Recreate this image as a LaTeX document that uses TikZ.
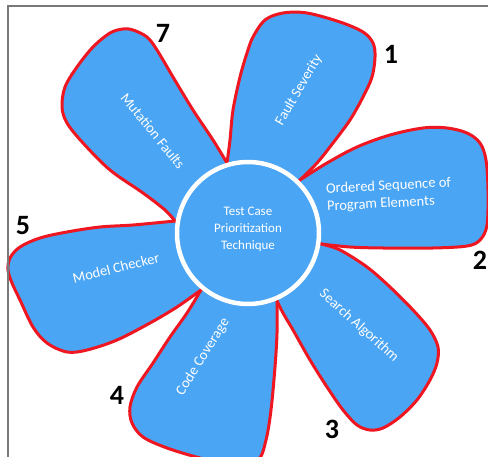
\documentclass[tikz,border=0pt]{standalone}
\usepackage{fontspec}
\setmainfont{Carlito}
\usetikzlibrary{calc}
\definecolor{petalblue}{RGB}{75,165,245}
\definecolor{petalred}{RGB}{238,22,32}
\definecolor{framegray}{RGB}{120,120,120}
\begin{document}
\begin{tikzpicture}[x=1pt,y=-1pt,
  petal/.style={fill=petalblue, draw=petalred, line width=3pt, line join=round},
  hub/.style={circle, fill=petalblue, draw=white, line width=4.5pt, minimum size=142pt, inner sep=0pt},
  petallabel/.style={text=white, font=\fontsize{14.5}{17.5}\selectfont, align=left, inner sep=0pt},
  hublabel/.style={text=white, font=\fontsize{13}{17}\selectfont, align=center, inner sep=0pt},
  num/.style={font=\fontsize{28}{28}\selectfont\bfseries, text=black, inner sep=0pt},
  frameline/.style={draw=framegray, line width=1.6pt}]
\useasboundingbox (0,0) rectangle (488,457);
\clip (0,0) rectangle (488,457);
\fill[white] (0,0) rectangle (488,457);

\coordinate (C) at (248,233);

% petal 1
\filldraw[petal] plot[smooth, tension=0.55] coordinates {(227,163) (230,140) (233,110) (240,77) (247,53) (253,37) (265,20) (283,13) (307,13) (340,22) (363,32) (373,43) (375,57) (372,77) (363,97) (350,120) (333,143) (317,163) (300,180)} -- (C) -- cycle;
% petal 2
\filldraw[petal] plot[smooth, tension=0.55] coordinates {(321,244) (350,247) (383,248) (433,248) (467,246) (480,240) (487,225) (488,190) (486,160) (480,143) (467,133) (447,128) (423,128) (390,135) (357,147) (327,163) (300,180)} -- (C) -- cycle;
% petal 3
\filldraw[petal] plot[smooth, tension=0.55] coordinates {(277,301) (283,313) (293,330) (310,360) (327,387) (343,410) (357,425) (370,430) (383,428) (400,417) (417,400) (430,380) (437,363) (438,347) (430,330) (413,310) (390,287) (367,267) (340,250) (321,244)} -- (C) -- cycle;
% petal 4
\filldraw[petal] plot[smooth, tension=0.55] coordinates {(201,290) (187,313) (170,337) (153,363) (137,387) (130,407) (132,423) (143,437) (167,448) (200,458) (235,466) (258,460) (266,440) (271,410) (275,367) (277,333) (277,301)} -- (C) -- cycle;
% petal 5
\filldraw[petal] plot[smooth, tension=0.55] coordinates {(175,221) (133,225) (100,227) (67,232) (40,238) (20,247) (10,258) (8,270) (12,283) (20,300) (33,327) (47,343) (67,352) (87,350) (117,340) (150,323) (177,307) (201,290)} -- (C) -- cycle;
% petal 7
\filldraw[petal] plot[smooth, tension=0.55] coordinates {(227,163) (213,140) (193,110) (173,77) (157,50) (147,37) (133,30) (123,29) (110,33) (93,47) (77,67) (65,87) (62,107) (67,123) (83,143) (110,170) (143,193) (165,210) (175,221)} -- (C) -- cycle;

% hub
\node[hub] (hub) at (C) {};
\node[hublabel] (hubtext) at (248,229) {Test Case\\Prioritization\\Technique};

% petal labels
\node[petallabel, rotate=60] (l1) at (299,90) {Fault Severity};
\node[petallabel, rotate=3] (l2) at (389,195) {Ordered Sequence of\\Program Elements};
\node[petallabel, rotate=-42] (l3) at (359,326) {Search Algorithm};
\node[petallabel, rotate=58] (l4) at (203,357) {Code Coverage};
\node[petallabel, rotate=14] (l5) at (116,268) {Model Checker};
\node[petallabel, rotate=-51] (l7) at (153,131) {Mutation Faults};

% numbers
\node[num] (n1) at (391,54) {1};
\node[num] (n2) at (480,260) {2};
\node[num] (n3) at (332,429) {3};
\node[num] (n4) at (117,395) {4};
\node[num] (n5) at (23,226) {5};
\node[num] (n7) at (163,33) {7};

% frame
\draw[frameline] (8,470) -- (8,6) -- (500,6);
\end{tikzpicture}
\end{document}
